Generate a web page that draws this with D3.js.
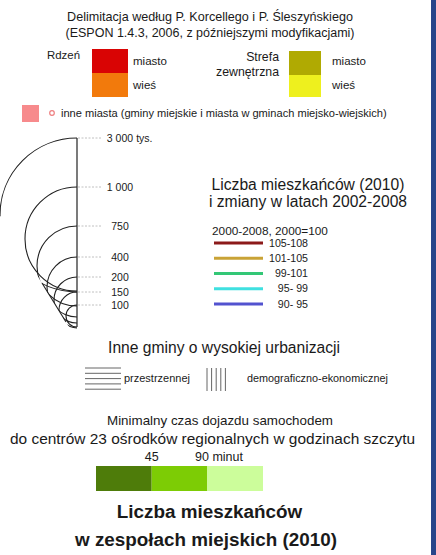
<!DOCTYPE html>
<html>
<head>
<meta charset="utf-8">
<script src="https://cdn.jsdelivr.net/npm/d3@7"></script>
<style>
  html, body { margin: 0; padding: 0; background: #fff; }
  svg { display: block; font-family: "Liberation Sans", Arial, sans-serif; }
</style>
</head>
<body>
<svg id="legend" width="436" height="555"></svg>
<script>
(function () {
    'use strict';

    // delimitation classes
    const zoneRows = ['miasto', 'wieś'];
    const coreColors = ['#d90404', '#f27a0c'];
    const outerColors = ['#b0aa02', '#eef01e'];

    // population sizes (thousands) and their labels
    const popValues = [3000, 1000, 750, 400, 200, 150, 100];
    const popLabels = ['3 000', '1 000', '750', '400', '200', '150', '100'];

    // change 2000-2008, 2000=100
    const changeClasses = ['105-108', '101-105', '99-101', '95- 99', '90- 95'];
    const changeColors = ['#8c1a1a', '#c9a336', '#33c776', '#3fe0e0', '#5252cf'];

    // travel time classes (minutes)
    const timeBreaks = [45, 90];
    const timeColors = ['#4e7c0a', '#7dcc05', '#ccfd9b'];

    const svg = d3.select('#legend');

    // font size at which a string spans the given width
    function fitSize(str, width, weight) {
        const t = svg.append('text').attr('font-size', 10).attr('font-weight', weight || 400).text(str);
        const w = t.node().getComputedTextLength();
        t.remove();
        return +(10 * width / w).toFixed(2);
    }
    function plain(x, y, str, size, anchor, weight) {
        return svg.append('text').attr('x', x).attr('y', y)
            .attr('text-anchor', anchor || 'start')
            .attr('font-weight', weight || 400)
            .attr('fill', '#1a1a1a').attr('font-size', size).text(str);
    }
    function label(x, y, str, width, anchor, weight) {
        return plain(x, y, str, fitSize(str, width, weight), anchor, weight);
    }

    svg.append('rect').attr('x', 431).attr('y', 0).attr('width', 5).attr('height', 555).attr('fill', '#27458a');

    // header
    label(210, 21, 'Delimitacja według P. Korcellego i P. Śleszyńskiego', 286, 'middle');
    label(210, 37, '(ESPON 1.4.3, 2006, z późniejszymi modyfikacjami)', 289, 'middle');

    const rowScale = d3.scaleBand().domain(zoneRows).range([49, 97]);
    const rowSize = fitSize('miasto', 34);

    label(47, 59, 'Rdzeń', 33);
    zoneRows.forEach((r, i) => {
        svg.append('rect').attr('x', 92).attr('y', rowScale(r)).attr('width', 36).attr('height', rowScale.bandwidth())
            .attr('fill', coreColors[i]);
        plain(133, rowScale(r) + 16, r, rowSize);
    });

    const zoneSize = fitSize('zewnętrzna', 63);
    plain(279, 61, 'Strefa', zoneSize, 'end');
    plain(279, 76, 'zewnętrzna', zoneSize, 'end');
    zoneRows.forEach((r, i) => {
        svg.append('rect').attr('x', 289).attr('y', rowScale(r) + 2).attr('width', 32).attr('height', rowScale.bandwidth() - (i ? 2 : 0))
            .attr('fill', outerColors[i]);
        plain(332, rowScale(r) + 16, r, rowSize);
    });

    svg.append('rect').attr('x', 22).attr('y', 105).attr('width', 17).attr('height', 17).attr('fill', '#f78a8c');
    svg.append('circle').attr('cx', 52).attr('cy', 113).attr('r', 2.3).attr('fill', 'none').attr('stroke', '#ee7f80').attr('stroke-width', 1.2);
    label(61, 117, 'inne miasta (gminy miejskie i miasta w gminach miejsko-wiejskich)', 326);

    // nested half circles
    const axisX = 77;
    const topScale = d3.scaleLinear().domain(popValues).range([138, 187, 226, 257, 277, 292, 305]);
    const rScale = d3.scaleLinear().domain(popValues).range([77, 52, 40, 30, 23, 18, 11]);

    svg.append('defs').append('clipPath').attr('id', 'cone')
        .append('path').attr('d', `M${axisX},100 L-71,100 L${axisX},340 Z`);

    const circles = svg.append('g');
    circles.append('g').attr('clip-path', 'url(#cone)')
        .selectAll('circle').data(popValues).join('circle')
        .attr('cx', axisX)
        .attr('cy', (d) => topScale(d) + rScale(d))
        .attr('r', (d) => rScale(d))
        .attr('fill', 'none').attr('stroke', '#222').attr('stroke-width', 1.1);
    circles.append('line').attr('x1', 42).attr('y1', 283).attr('x2', 66).attr('y2', 322)
        .attr('stroke', '#222').attr('stroke-width', 1.1);
    circles.append('line').attr('x1', axisX).attr('x2', axisX)
        .attr('y1', topScale(popValues[0])).attr('y2', 327)
        .attr('stroke', '#222').attr('stroke-width', 1.2);

    popValues.forEach((v, i) => {
        const y = topScale(v);
        svg.append('line').attr('x1', axisX + 1).attr('x2', 101).attr('y1', y).attr('y2', y)
            .attr('stroke', '#b0b0b0').attr('stroke-width', 0.8).attr('stroke-dasharray', '2,1.5');
        const t = plain(120, y + 4, popLabels[i], 10.5, 'middle');
        if (i === 0) {
            const w = t.node().getComputedTextLength();
            plain(120 + w / 2 + 3, y + 4, 'tys.', 10.5);
        }
    });

    // change legend
    const headSize = fitSize('Liczba mieszkańców (2010)', 193);
    plain(308, 190, 'Liczba mieszkańców (2010)', headSize, 'middle');
    plain(308, 207, 'i zmiany w latach 2002-2008', headSize, 'middle');
    label(212, 235, '2000-2008, 2000=100', 116);

    const changeY = d3.scalePoint().domain(changeClasses).range([243, 304]);
    const classSize = fitSize('105-108', 39);
    changeClasses.forEach((c, i) => {
        const y = changeY(c);
        svg.append('line').attr('x1', 214).attr('x2', 263).attr('y1', y).attr('y2', y)
            .attr('stroke', changeColors[i]).attr('stroke-width', 3);
        plain(308, y + 3.5, c, classSize, 'end');
    });

    // other urbanised gminas
    label(224, 353, 'Inne gminy o wysokiej urbanizacji', 232, 'middle');

    const hatchY = d3.range(5).map((i) => 368 + i * 5.3);
    svg.append('g').selectAll('line').data(hatchY).join('line')
        .attr('x1', 85).attr('x2', 121).attr('y1', (d) => d).attr('y2', (d) => d)
        .attr('stroke', '#555').attr('stroke-width', 0.9);
    label(124, 382, 'przestrzennej', 66);

    const hatchX = d3.range(5).map((i) => 207 + i * 4.6);
    svg.append('g').selectAll('line').data(hatchX).join('line')
        .attr('x1', (d) => d).attr('x2', (d) => d).attr('y1', 368).attr('y2', 391)
        .attr('stroke', '#555').attr('stroke-width', 0.9);
    label(247, 382, 'demograficzno-ekonomicznej', 141);

    // travel time
    label(220, 425, 'Minimalny czas dojazdu samochodem', 226, 'middle');
    label(212.5, 444, 'do centrów 23 ośrodków regionalnych w godzinach szczytu', 405, 'middle');

    const timeScale = d3.scaleLinear().domain([0, 135]).range([96, 263]);
    const timeBins = [0, ...timeBreaks, 135];
    timeColors.forEach((c, i) => {
        svg.append('rect').attr('x', timeScale(timeBins[i])).attr('y', 466)
            .attr('width', timeScale(timeBins[i + 1]) - timeScale(timeBins[i])).attr('height', 25)
            .attr('fill', c);
    });
    const minSize = fitSize('90 minut', 48);
    plain(195, 461, '90 minut', minSize);
    plain(timeScale(45), 461, '45', minSize, 'middle');

    // title
    const titleSize = fitSize('w zespołach miejskich (2010)', 262, 700);
    plain(209.5, 518, 'Liczba mieszkańców', titleSize, 'middle', 700);
    plain(206, 546, 'w zespołach miejskich (2010)', titleSize, 'middle', 700);
})();
</script>
</body>
</html>
